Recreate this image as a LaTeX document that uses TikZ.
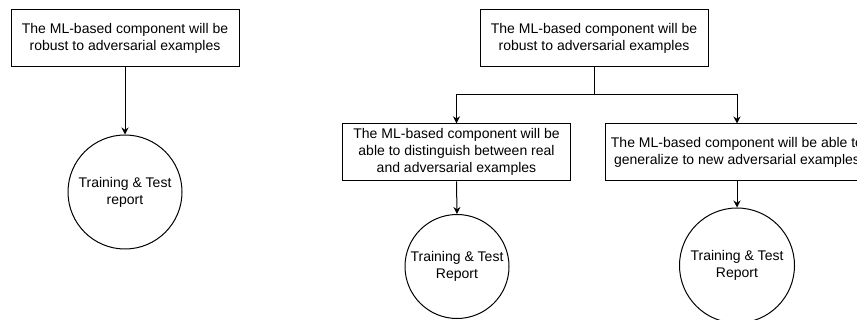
\documentclass[tikz,border=0pt]{standalone}
\usepackage{fontspec}
\setmainfont{Liberation Sans}
\usetikzlibrary{arrows.meta}
\begin{document}
\begin{tikzpicture}[x=1pt,y=-1pt,
  every node/.style={font=\fontsize{14}{17}\selectfont, align=center, inner sep=0pt, line width=1pt},
  goalbox/.style={draw, rectangle, minimum width=228pt, minimum height=57pt},
  report/.style={draw, circle},
  conn/.style={line width=1pt},
  arr/.style={conn, -{Stealth[length=7pt,width=7pt]}}]
\useasboundingbox (0,0) rectangle (857,320);
\clip (0,0) rectangle (857,320);
\fill[white] (0,0) rectangle (857,320);
% left diagram
\node[goalbox] (g1) at (125,38) {The ML-based component will be\\robust to adversarial examples};
\node[report, minimum size=114pt] (r1) at (125,192) {Training \& Test\\report};
\draw[arr] (g1.south) -- (r1.north);
% right diagram
\node[goalbox] (g2) at (594,38) {The ML-based component will be\\robust to adversarial examples};
\node[goalbox] (g3) at (456.5,152.3) {The ML-based component will be\\able to distinguish between real\\and adversarial examples};
\node[goalbox, minimum width=264pt] (g4) at (737,152.5) {The ML-based component will be able to\\generalize to new adversarial examples};
\node[report, minimum size=104pt] (r3) at (457,266.5) {Training \& Test\\Report};
\node[report, minimum size=115pt] (r4) at (737,265.5) {Training \& Test\\Report};
\coordinate (split) at (594,94.5);
\draw[conn] (g2.south) -- (split);
\draw[arr] (split) -| (g3.north);
\draw[arr] (split) -| (g4.north);
\draw[arr] (g3.south) -- (r3.north);
\draw[arr] (g4.south) -- (r4.north);
\end{tikzpicture}
\end{document}
